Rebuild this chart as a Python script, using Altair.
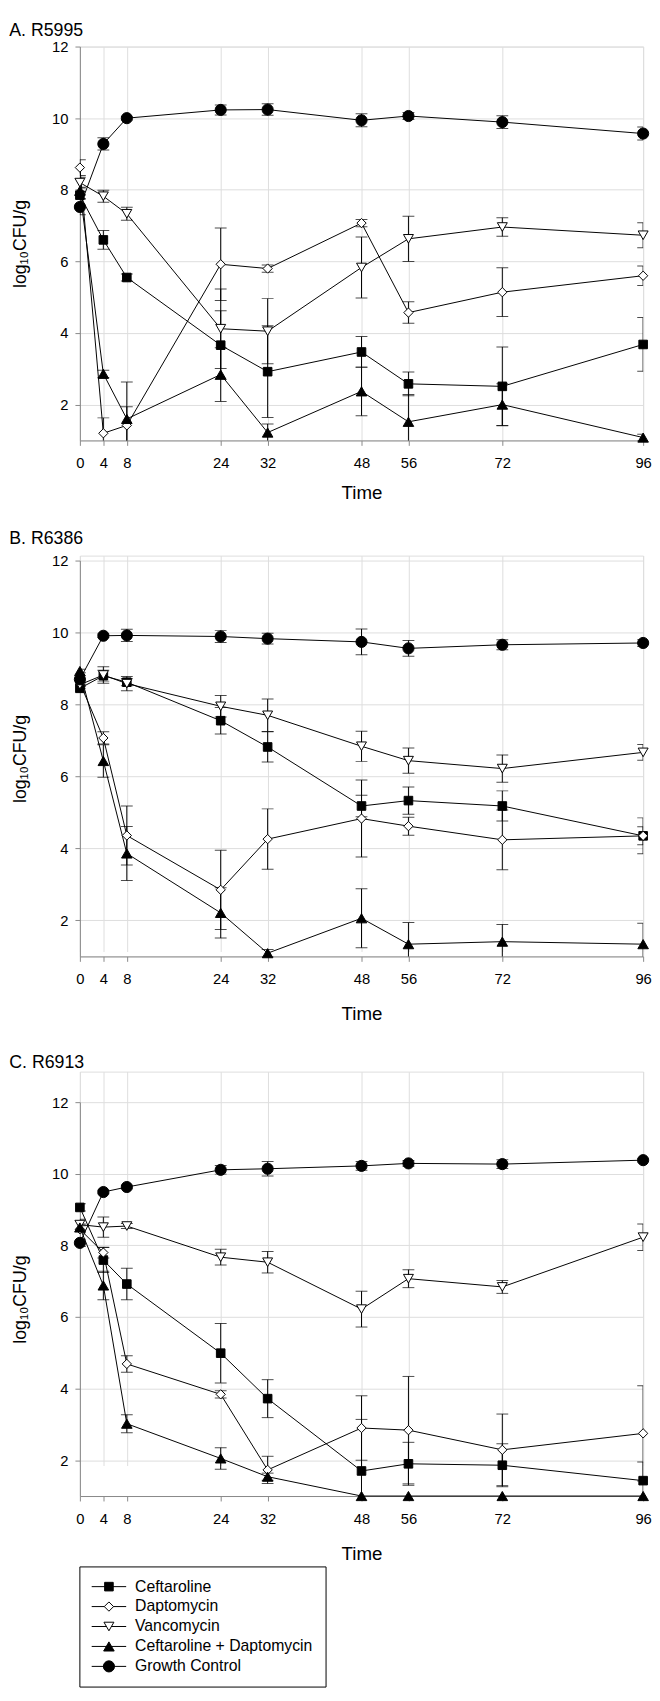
import altair as alt
import pandas as pd

FONT = "Liberation Sans"

times = [0, 4, 8, 24, 32, 48, 56, 72, 96]
series_names = ["Ceftaroline", "Daptomycin", "Vancomycin",
                "Ceftaroline + Daptomycin", "Growth Control"]
panel_titles = ["A. R5995", "B. R6386", "C. R6913"]

# ---- Panel A (R5995): means and error (SD) ----
ceft_A = [7.85, 6.60, 5.55, 3.66, 2.92, 3.47, 2.58, 2.51, 3.68]
ceft_A_err = [0.10, 0.26, 0.10, 0.96, 1.28, 0.43, 0.33, 1.10, 0.75]
dap_A = [8.62, 1.20, 1.42, 5.92, 5.80, 7.07, 4.57, 5.14, 5.60]
dap_A_err = [0.22, 0.43, 0.52, 1.01, 0.10, 0.10, 0.30, 0.68, 0.27]
van_A = [8.20, 7.82, 7.33, 4.12, 4.05, 5.83, 6.63, 6.96, 6.73]
van_A_err = [0.15, 0.17, 0.18, 1.11, 0.91, 0.85, 0.63, 0.26, 0.35]
combo_A = [7.97, 2.86, 1.60, 2.84, 1.22, 2.37, 1.52, 2.00, 1.08]
combo_A_err = [0.10, 0.10, 1.03, 0.75, 0.24, 0.68, 0.76, 0.58, 0.09]
gc_A = [7.52, 9.28, 10.00, 10.23, 10.24, 9.94, 10.06, 9.89, 9.57]
gc_A_err = [0.22, 0.17, 0.05, 0.14, 0.16, 0.18, 0.10, 0.18, 0.18]

# ---- Panel B (R6386) ----
ceft_B = [8.45, 8.80, 8.62, 7.55, 6.82, 5.18, 5.33, 5.18, 4.35]
ceft_B_err = [0.10, 0.15, 0.10, 0.37, 0.42, 0.30, 0.38, 0.42, 0.25]
dap_B = [8.60, 7.07, 4.36, 2.85, 4.26, 4.83, 4.62, 4.24, 4.35]
dap_B_err = [0.10, 0.17, 0.82, 1.10, 0.84, 1.07, 0.25, 0.83, 0.50]
van_B = [8.55, 8.82, 8.58, 7.95, 7.70, 6.84, 6.44, 6.22, 6.67]
van_B_err = [0.10, 0.23, 0.20, 0.30, 0.45, 0.42, 0.35, 0.38, 0.22]
combo_B = [8.93, 6.43, 3.86, 2.21, 1.09, 2.06, 1.34, 1.41, 1.34]
combo_B_err = [0.05, 0.45, 0.75, 0.70, 0.10, 0.82, 0.60, 0.48, 0.58]
gc_B = [8.70, 9.91, 9.92, 9.89, 9.83, 9.74, 9.56, 9.66, 9.71]
gc_B_err = [0.10, 0.05, 0.17, 0.17, 0.15, 0.36, 0.22, 0.14, 0.10]

# ---- Panel C (R6913) ----
ceft_C = [9.06, 7.59, 6.92, 4.99, 3.72, 1.70, 1.90, 1.86, 1.43]
ceft_C_err = [0.10, 0.35, 0.44, 0.83, 0.53, 1.44, 0.60, 0.60, 0.52]
dap_C = [8.45, 7.80, 4.69, 3.84, 1.73, 2.90, 2.84, 2.29, 2.75]
dap_C_err = [0.10, 0.15, 0.23, 0.10, 0.38, 0.90, 1.50, 1.00, 1.33]
van_C = [8.58, 8.51, 8.54, 7.67, 7.53, 6.22, 7.07, 6.84, 8.23]
van_C_err = [0.15, 0.28, 0.07, 0.22, 0.30, 0.50, 0.25, 0.18, 0.37]
combo_C = [8.50, 6.88, 3.02, 2.05, 1.54, 1.00, 1.00, 1.00, 1.00]
combo_C_err = [0.10, 0.40, 0.25, 0.30, 0.10, 0.00, 0.00, 0.00, 0.00]
gc_C = [8.07, 9.49, 9.63, 10.11, 10.14, 10.22, 10.29, 10.27, 10.38]
gc_C_err = [0.10, 0.05, 0.05, 0.12, 0.20, 0.12, 0.08, 0.12, 0.05]

# styles (not data)
shape_range = ["square", "diamond", "triangle-down", "triangle-up", "circle"]
fill_range = ["black", "white", "white", "black", "black"]
size_range = [76, 128, 125, 125, 96]

panels = [
    ([ceft_A, dap_A, van_A, combo_A, gc_A],
     [ceft_A_err, dap_A_err, van_A_err, combo_A_err, gc_A_err]),
    ([ceft_B, dap_B, van_B, combo_B, gc_B],
     [ceft_B_err, dap_B_err, van_B_err, combo_B_err, gc_B_err]),
    ([ceft_C, dap_C, van_C, combo_C, gc_C],
     [ceft_C_err, dap_C_err, van_C_err, combo_C_err, gc_C_err]),
]


def make_df(values, errs):
    rows = []
    for name, vals, es in zip(series_names, values, errs):
        for t, v, e in zip(times, vals, es):
            rows.append({"Series": name, "Time": t, "Value": v, "Err": e,
                         "Lo": v - e, "Hi": v + e})
    return pd.DataFrame(rows)


shape_enc = alt.Shape("Series:N", scale=alt.Scale(domain=series_names, range=shape_range), legend=None)
fill_enc = alt.Fill("Series:N", scale=alt.Scale(domain=series_names, range=fill_range), legend=None)
size_enc = alt.Size("Series:N", scale=alt.Scale(domain=series_names, range=size_range), legend=None)

x_scale = alt.Scale(domain=[0, 96], nice=False, zero=False)
y_axis = alt.Axis(values=[2, 4, 6, 8, 10, 12], title="log₁₀CFU/g", labelFontSize=15,
                  titleFontSize=18, titleFontWeight="normal", tickSize=5,
                  labelPadding=7, titlePadding=23)

SPACING = 117
# per panel layout: (empty strip above plot, plot height, title offset, x-title padding)
panel_layout = [(0, 400, 0, 13), (5, 402, 6, 18), (31, 400, 0, 18)]


def make_panel(idx, extra_layers=None):
    values, errs = panels[idx]
    top, plot_h, title_offset, time_pad = panel_layout[idx]
    height = top + plot_h
    y_scale = alt.Scale(domain=[1, 12], nice=False, zero=False, range=[height, top])
    df = make_df(values, errs)
    base = alt.Chart(df)
    x_axis = alt.Axis(values=times, title="Time", labelFontSize=15, titleFontSize=19,
                      titleFontWeight="normal", tickSize=5, labelPadding=11,
                      titlePadding=time_pad, labelFlush=False)
    X = alt.X("Time:Q", scale=x_scale, axis=x_axis)
    line = base.mark_line(color="black", strokeWidth=1).encode(
        x=X, y=alt.Y("Value:Q", scale=y_scale, axis=y_axis), detail="Series:N")
    eb = base.transform_filter("datum.Err > 0")
    bar = eb.mark_rule(color="black", strokeWidth=1, clip=True).encode(
        x=X, y=alt.Y("Lo:Q", scale=y_scale, axis=y_axis), y2="Hi:Q")
    cap_lo = eb.mark_tick(color="black", orient="horizontal", size=12, thickness=1, clip=True).encode(
        x=X, y=alt.Y("Lo:Q", scale=y_scale, axis=y_axis))
    cap_hi = eb.mark_tick(color="black", orient="horizontal", size=12, thickness=1, clip=True).encode(
        x=X, y=alt.Y("Hi:Q", scale=y_scale, axis=y_axis))
    pts = base.mark_point(filled=True, stroke="black", strokeWidth=1, opacity=1).encode(
        x=X, y=alt.Y("Value:Q", scale=y_scale, axis=y_axis),
        shape=shape_enc, fill=fill_enc, size=size_enc)
    chart = alt.layer(line, bar, cap_lo, cap_hi, pts)
    if extra_layers is not None:
        chart = alt.layer(chart, extra_layers).resolve_scale(y="independent")
    return chart.properties(
        width=572, height=height,
        title=alt.TitleParams(text=panel_titles[idx], anchor="start", frame="bounds",
                              fontSize=18, fontWeight="normal", font=FONT,
                              color="black", offset=title_offset, dx=-2))


# ---- legend, drawn below panel C through its own point scale ----
C_H = panel_layout[2][0] + panel_layout[2][1]
leg_df = pd.DataFrame({"Series": series_names})
ly = alt.Y("Series:N", axis=None,
           scale=alt.Scale(domain=series_names, type="point", padding=0,
                           range=[C_H + 92, C_H + 173]))
leg_base = alt.Chart(leg_df)
leg_box = alt.Chart(pd.DataFrame({"box": [0]})).mark_rect(
    fill="white", fillOpacity=0, stroke="black", strokeWidth=1).encode(
    x=alt.value(0), x2=alt.value(250), y=alt.value(C_H + 72), y2=alt.value(C_H + 194))
leg_rule = leg_base.mark_rule(color="black", strokeWidth=1).encode(
    x=alt.value(12), x2=alt.value(47), y=ly)
leg_pts = leg_base.mark_point(filled=True, stroke="black", strokeWidth=1, opacity=1).encode(
    x=alt.value(29.5), y=ly, shape=shape_enc, fill=fill_enc, size=size_enc)
leg_txt = leg_base.mark_text(align="left", baseline="middle", fontSize=16, font=FONT,
                             color="black").encode(x=alt.value(56), y=ly, text="Series:N")
legend_layers = alt.layer(leg_box, leg_rule, leg_pts, leg_txt)

chart = alt.vconcat(
    make_panel(0), make_panel(1), make_panel(2, legend_layers),
    spacing=SPACING, bounds="flush", padding=0,
).configure_view(stroke=None).configure_axis(
    grid=False, domainColor="black", tickColor="black", labelColor="black",
    titleColor="black", labelFont=FONT, titleFont=FONT, titleFontWeight="normal",
    domainWidth=1, tickWidth=1,
).configure(font=FONT)

chart.save("out.html", embed_options={"renderer": "svg", "actions": False})
